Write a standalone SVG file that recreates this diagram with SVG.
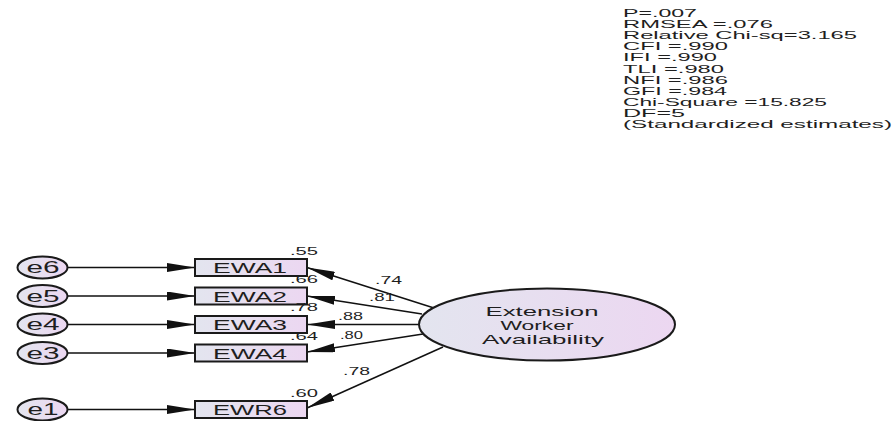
<svg xmlns="http://www.w3.org/2000/svg" width="893" height="421" viewBox="0 0 893 421">
<style>
text{font-family:"Liberation Sans",Arial,sans-serif;fill:#1e1e1e}
.st{font-size:10.5px}
.lab{font-size:15px;text-anchor:middle}
.big{font-size:13.5px;text-anchor:middle}
.err{font-size:16px;text-anchor:middle}
.num{font-size:11px}
.obs{fill:url(#g);stroke:#1a1a1a;stroke-width:2}
.lat{fill:url(#g);stroke:#1a1a1a;stroke-width:2}
.cn{stroke:#111;stroke-width:1.5;fill:none;marker-end:url(#ah)}
</style>
<defs>
<linearGradient id="g" x1="0" y1="0" x2="1" y2="0">
<stop offset="0" stop-color="#e3e5ef"/>
<stop offset="1" stop-color="#ecd7f1"/>
</linearGradient>
<marker id="ah" viewBox="0 0 28 9" refX="28" refY="4.5" markerWidth="28" markerHeight="9" markerUnits="userSpaceOnUse" orient="auto">
<path d="M0,0 L28,4.5 L0,9 Z" fill="#111"/>
</marker>
</defs>
<rect width="893" height="421" fill="#fff"/>
<g id="fit-stats">
<text class="st" x="623" y="17" textLength="74" lengthAdjust="spacingAndGlyphs">P=.007</text>
<text class="st" x="623" y="28.1" textLength="150" lengthAdjust="spacingAndGlyphs">RMSEA =.076</text>
<text class="st" x="623" y="39.2" textLength="234" lengthAdjust="spacingAndGlyphs">Relative Chi-sq=3.165</text>
<text class="st" x="623" y="50.3" textLength="105" lengthAdjust="spacingAndGlyphs">CFI =.990</text>
<text class="st" x="623" y="61.4" textLength="94" lengthAdjust="spacingAndGlyphs">IFI =.990</text>
<text class="st" x="623" y="72.5" textLength="101" lengthAdjust="spacingAndGlyphs">TLI =.980</text>
<text class="st" x="623" y="83.6" textLength="105" lengthAdjust="spacingAndGlyphs">NFI =.986</text>
<text class="st" x="623" y="94.7" textLength="104" lengthAdjust="spacingAndGlyphs">GFI =.984</text>
<text class="st" x="623" y="105.8" textLength="204" lengthAdjust="spacingAndGlyphs">Chi-Square =15.825</text>
<text class="st" x="623" y="116.9" textLength="62" lengthAdjust="spacingAndGlyphs">DF=5</text>
<text class="st" x="623" y="128" textLength="269" lengthAdjust="spacingAndGlyphs">(Standardized estimates)</text>
</g>
<g id="connectors">
<line class="cn" x1="68" y1="267.5" x2="195" y2="267.5"/>
<line class="cn" x1="68" y1="296" x2="195" y2="296"/>
<line class="cn" x1="68" y1="324.5" x2="195" y2="324.5"/>
<line class="cn" x1="68" y1="353" x2="195" y2="353"/>
<line class="cn" x1="68" y1="409.5" x2="195" y2="409.5"/>
<line class="cn" x1="434" y1="308" x2="307" y2="267.5"/>
<line class="cn" x1="422" y1="314" x2="307" y2="296"/>
<line class="cn" x1="419" y1="324.5" x2="307" y2="324.5"/>
<line class="cn" x1="423" y1="334" x2="307" y2="352"/>
<line class="cn" x1="443" y1="347" x2="307" y2="408"/>
</g>
<g id="labels-paths">
<text class="num" x="375" y="284" textLength="27" lengthAdjust="spacingAndGlyphs">.74</text>
<text class="num" x="369" y="301" textLength="26" lengthAdjust="spacingAndGlyphs">.81</text>
<text class="num" x="338" y="320" textLength="25" lengthAdjust="spacingAndGlyphs">.88</text>
<text class="num" x="340" y="339" textLength="23" lengthAdjust="spacingAndGlyphs">.80</text>
<text class="num" x="343" y="375" textLength="27" lengthAdjust="spacingAndGlyphs">.78</text>
</g>
<g id="e6"><ellipse cx="42.5" cy="267.5" rx="25" ry="11" class="lat"/><text class="err" x="43" y="273" textLength="33" lengthAdjust="spacingAndGlyphs">e6</text></g>
<g id="e5"><ellipse cx="42.5" cy="296" rx="25" ry="11" class="lat"/><text class="err" x="43" y="301.5" textLength="33" lengthAdjust="spacingAndGlyphs">e5</text></g>
<g id="e4"><ellipse cx="42.5" cy="324.5" rx="25" ry="11" class="lat"/><text class="err" x="43" y="330" textLength="33" lengthAdjust="spacingAndGlyphs">e4</text></g>
<g id="e3"><ellipse cx="42.5" cy="353" rx="25" ry="11" class="lat"/><text class="err" x="43" y="358.5" textLength="33" lengthAdjust="spacingAndGlyphs">e3</text></g>
<g id="e1"><ellipse cx="42.5" cy="409.5" rx="25" ry="11" class="lat"/><text class="err" x="43" y="415" textLength="31" lengthAdjust="spacingAndGlyphs">e1</text></g>
<g id="EWA1"><rect class="obs" x="195" y="259" width="112" height="17"/><text class="lab" x="250" y="273" textLength="74" lengthAdjust="spacingAndGlyphs">EWA1</text><text class="num" x="290" y="255" textLength="28" lengthAdjust="spacingAndGlyphs">.55</text></g>
<g id="EWA2"><rect class="obs" x="195" y="287.5" width="112" height="17"/><text class="lab" x="250" y="301.5" textLength="74" lengthAdjust="spacingAndGlyphs">EWA2</text><text class="num" x="290" y="283" textLength="28" lengthAdjust="spacingAndGlyphs">.66</text></g>
<g id="EWA3"><rect class="obs" x="195" y="316" width="112" height="17"/><text class="lab" x="250" y="330" textLength="74" lengthAdjust="spacingAndGlyphs">EWA3</text><text class="num" x="290" y="311" textLength="28" lengthAdjust="spacingAndGlyphs">.78</text></g>
<g id="EWA4"><rect class="obs" x="195" y="344.5" width="112" height="17"/><text class="lab" x="250" y="358.5" textLength="74" lengthAdjust="spacingAndGlyphs">EWA4</text><text class="num" x="290" y="339.5" textLength="28" lengthAdjust="spacingAndGlyphs">.64</text></g>
<g id="EWR6"><rect class="obs" x="195" y="401" width="112" height="17"/><text class="lab" x="250" y="415" textLength="74" lengthAdjust="spacingAndGlyphs">EWR6</text><text class="num" x="290" y="397" textLength="28" lengthAdjust="spacingAndGlyphs">.60</text></g>
<g id="ExtensionWorkerAvailability">
<ellipse class="lat" cx="547" cy="324.5" rx="128" ry="36"/>
<text class="big" x="542" y="316" textLength="113" lengthAdjust="spacingAndGlyphs">Extension</text>
<text class="big" x="537" y="330" textLength="73" lengthAdjust="spacingAndGlyphs">Worker</text>
<text class="big" x="543" y="344" textLength="122" lengthAdjust="spacingAndGlyphs">Availability</text>
</g>
</svg>
